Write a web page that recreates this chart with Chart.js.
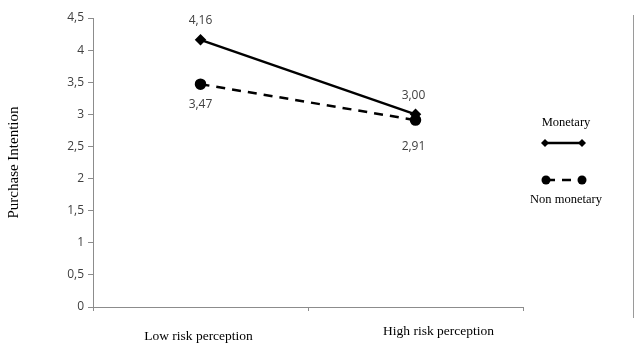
<!DOCTYPE html>
<html>
<head>
<meta charset="utf-8">
<script src="https://cdn.jsdelivr.net/npm/chart.js@4"></script>
<style>
html,body{margin:0;padding:0;background:#fff;}
#wrap{position:relative;width:640px;height:345px;}
</style>
</head>
<body>
<div id="wrap"><canvas id="c" width="640" height="345"></canvas></div>
<script>
const categories = ["Low risk perception", "High risk perception"];
const monetary = [4.16, 3.00];
const nonMonetary = [3.47, 2.91];
const seriesNames = ["Monetary", "Non monetary"];
const yTicks = [0, 0.5, 1, 1.5, 2, 2.5, 3, 3.5, 4, 4.5];

const fmt = v => v.toFixed(2).replace('.', ',');
const fmtTick = v => String(v).replace('.', ',');

const labelPlugin = {
  id: 'labels',
  afterDatasetsDraw(chart) {
    const ctx = chart.ctx;
    ctx.save();
    ctx.font = '12px "Open Sans", "DejaVu Sans", sans-serif';
    ctx.fillStyle = '#404040';
    ctx.textAlign = 'center';
    ctx.textBaseline = 'middle';
    chart.data.datasets.forEach((ds, di) => {
      const meta = chart.getDatasetMeta(di);
      meta.data.forEach((pt, i) => {
        const above = di === 0;
        const dy = above ? -19 : (i === 0 ? 20 : 26);
        ctx.fillText(fmt(ds.data[i]), pt.x - (i === 1 ? 2 : 0), pt.y + dy);
      });
    });
    ctx.restore();
  },
  afterDraw(chart) {
    const ctx = chart.ctx;
    ctx.save();
    // category labels (placed as in the original figure)
    const xs = chart.scales.x;
    const shifts = [[-2, 336], [23, 331]];
    ctx.font = '13.5px "Liberation Serif", "DejaVu Serif", serif';
    ctx.fillStyle = '#000';
    ctx.textAlign = 'center';
    ctx.textBaseline = 'middle';
    categories.forEach((c, i) => {
      ctx.fillText(c, xs.getPixelForValue(i) + shifts[i][0], shifts[i][1]);
    });
    // frame line on right
    ctx.strokeStyle = '#9a9a9a';
    ctx.lineWidth = 1;
    ctx.beginPath();
    ctx.moveTo(633.5, 15);
    ctx.lineTo(633.5, 318);
    ctx.stroke();
    // legend
    ctx.font = '12.5px "Liberation Serif", "DejaVu Serif", serif';
    ctx.fillStyle = '#000';
    ctx.fillText(seriesNames[0], 566, 123);
    ctx.fillText(seriesNames[1], 566, 200);
    ctx.strokeStyle = '#000';
    ctx.lineWidth = 2.5;
    ctx.beginPath();
    ctx.moveTo(545, 143); ctx.lineTo(582, 143);
    ctx.stroke();
    [545, 582].forEach(x => {
      ctx.beginPath();
      ctx.moveTo(x, 139); ctx.lineTo(x + 4, 143); ctx.lineTo(x, 147); ctx.lineTo(x - 4, 143);
      ctx.closePath(); ctx.fill();
    });
    ctx.setLineDash([9, 7]);
    ctx.beginPath();
    ctx.moveTo(546, 180); ctx.lineTo(582, 180);
    ctx.stroke();
    ctx.setLineDash([]);
    [546, 582].forEach(x => {
      ctx.beginPath(); ctx.arc(x, 180, 4.5, 0, Math.PI * 2); ctx.fill();
    });
    ctx.restore();
  }
};

new Chart(document.getElementById('c'), {
  type: 'line',
  data: {
    labels: categories,
    datasets: [
      {
        label: seriesNames[0], data: monetary,
        borderColor: '#000', backgroundColor: '#000', borderWidth: 2.5,
        pointStyle: 'rectRot', pointRadius: 4, pointHoverRadius: 4, tension: 0
      },
      {
        label: seriesNames[1], data: nonMonetary,
        borderColor: '#000', backgroundColor: '#000', borderWidth: 2.5,
        borderDash: [9, 7],
        pointStyle: 'circle', pointRadius: 4.5, pointHoverRadius: 4.5, tension: 0
      }
    ]
  },
  options: {
    responsive: false,
    animation: false,
    events: [],
    layout: { padding: { left: 0, right: 117, top: 18, bottom: 0 } },
    plugins: { legend: { display: false }, tooltip: { enabled: false } },
    scales: {
      x: {
        type: 'category',
        offset: true,
        afterFit(s) { s.height = 38; },
        grid: { offset: true, drawOnChartArea: false, color: '#8c8c8c', tickLength: 4, tickColor: '#8c8c8c' },
        border: { color: '#8c8c8c', width: 1 },
        ticks: { display: false }
      },
      y: {
        min: 0, max: 4.5,
        afterFit(s) { s.width = 93; },
        afterBuildTicks(s) { s.ticks = yTicks.map(v => ({ value: v })); },
        grid: { drawOnChartArea: false, color: '#8c8c8c', tickLength: 5, tickColor: '#8c8c8c' },
        border: { color: '#8c8c8c', width: 1 },
        title: {
          display: true, text: 'Purchase Intention', color: '#000', padding: { top: 5, bottom: 30 },
          font: { family: '"Liberation Serif", "DejaVu Serif", serif', size: 15 }
        },
        ticks: {
          color: '#404040', padding: 4,
          font: { family: '"Open Sans", "DejaVu Sans", sans-serif', size: 12 },
          callback: v => fmtTick(v)
        }
      }
    }
  },
  plugins: [labelPlugin]
});
</script>
</body>
</html>
